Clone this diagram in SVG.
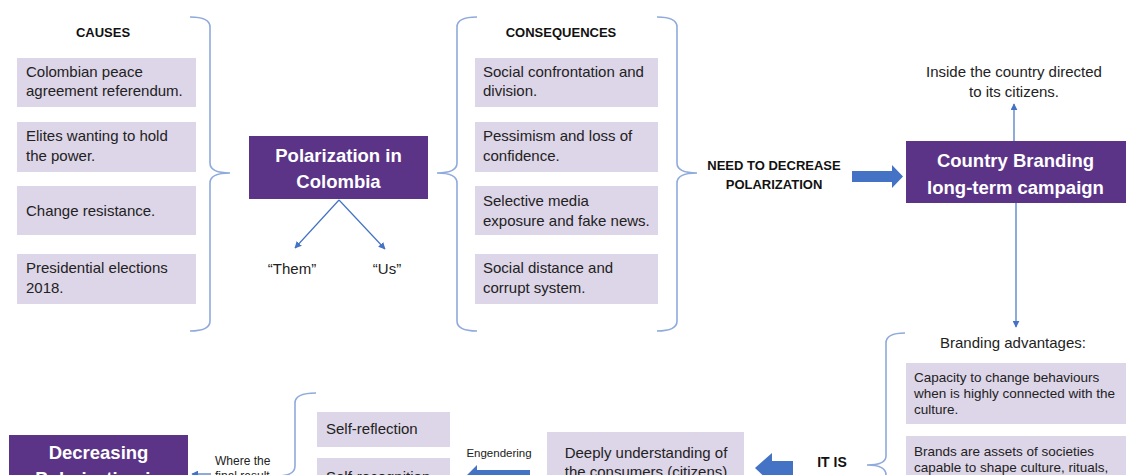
<svg xmlns="http://www.w3.org/2000/svg" width="1126" height="475" viewBox="0 0 1126 475">
<defs>
<style>
text{font-family:"Liberation Sans",Arial,sans-serif;fill:#222;}
.t{font-size:15px;}
.ts{font-size:13.5px;}
.tx{font-size:12px;}
.h{font-size:13px;font-weight:bold;fill:#111;}
.pb{fill:#5B3487;}
.pt{font-size:18.5px;font-weight:bold;fill:#fff;text-anchor:middle;}
.lb{fill:#DDD5E8;}
.br{fill:none;stroke:#8FAADC;stroke-width:1.6;}
.ln{fill:none;stroke:#4472C4;stroke-width:1.2;marker-end:url(#ah);}
.blk{fill:#4472C4;}
.c{text-anchor:middle;}
</style>
<marker id="ah" viewBox="0 0 10 10" refX="9" refY="5" markerWidth="7" markerHeight="7" orient="auto" markerUnits="userSpaceOnUse">
<path d="M0,0 L10,5 L0,10 z" fill="#4472C4"/>
</marker>
</defs>
<rect width="1126" height="475" fill="#fff"/>

<g id="causes">
<text class="h c" x="103" y="37">CAUSES</text>
<g id="cause1"><rect class="lb" x="17" y="58" width="179" height="49"/><text class="t" x="26" y="77">Colombian peace</text><text class="t" x="26" y="96">agreement referendum.</text></g>
<g id="cause2"><rect class="lb" x="17" y="122" width="179" height="50"/><text class="t" x="26" y="141">Elites wanting to hold</text><text class="t" x="26" y="161">the power.</text></g>
<g id="cause3"><rect class="lb" x="17" y="186" width="179" height="49"/><text class="t" x="26" y="216">Change resistance.</text></g>
<g id="cause4"><rect class="lb" x="17" y="254" width="179" height="50"/><text class="t" x="26" y="273">Presidential elections</text><text class="t" x="26" y="293">2018.</text></g>
</g>

<g id="polarization"><rect class="pb" x="249" y="136" width="179" height="63"/><text class="pt" x="338.5" y="161.5">Polarization in</text><text class="pt" x="338.5" y="187.5">Colombia</text></g>
<g id="them"><text class="t c" x="292" y="274">“Them”</text></g>
<g id="us"><text class="t c" x="387" y="274">“Us”</text></g>

<g id="consequences">
<text class="h c" x="561" y="37">CONSEQUENCES</text>
<g id="cons1"><rect class="lb" x="475" y="58" width="183" height="49"/><text class="t" x="483" y="77">Social confrontation and</text><text class="t" x="483" y="96">division.</text></g>
<g id="cons2"><rect class="lb" x="475" y="122" width="183" height="50"/><text class="t" x="483" y="141">Pessimism and loss of</text><text class="t" x="483" y="161">confidence.</text></g>
<g id="cons3"><rect class="lb" x="475" y="186" width="183" height="49"/><text class="t" x="483" y="206">Selective media</text><text class="t" x="483" y="226">exposure and fake news.</text></g>
<g id="cons4"><rect class="lb" x="475" y="254" width="183" height="50"/><text class="t" x="483" y="273">Social distance and</text><text class="t" x="483" y="293">corrupt system.</text></g>
</g>

<g id="need"><text class="h c" x="774" y="170">NEED TO DECREASE</text><text class="h c" x="774" y="189">POLARIZATION</text></g>

<g id="branding"><rect class="pb" x="906" y="141" width="220" height="62"/><text class="pt" x="1015.5" y="166.5">Country Branding</text><text class="pt" x="1015.5" y="193.5">long-term campaign</text></g>

<g id="inside"><text class="t c" x="1014" y="77">Inside the country directed</text><text class="t c" x="1014" y="97">to its citizens.</text></g>

<g id="advantages">
<text class="t c" x="1013" y="348">Branding advantages:</text>
<g id="adv1"><rect class="lb" x="906" y="363" width="220" height="61"/><text class="ts" x="914" y="382">Capacity to change behaviours</text><text class="ts" x="914" y="398">when is highly connected with the</text><text class="ts" x="914" y="414">culture.</text></g>
<g id="adv2"><rect class="lb" x="906" y="436" width="220" height="70"/><text class="ts" x="914" y="456">Brands are assets of societies</text><text class="ts" x="914" y="472">capable to shape culture, rituals,</text></g>
</g>

<g id="itis"><text class="c" x="832" y="467" style="font-size:14px;font-weight:bold;fill:#111">IT IS</text></g>

<g id="deeply"><rect class="lb" x="547" y="432" width="197" height="70"/><text class="t c" x="646" y="458">Deeply understanding of</text><text class="t c" x="646" y="477">the consumers (citizens)</text></g>

<g id="selfreflection"><rect class="lb" x="317" y="412" width="133" height="35"/><text class="t" x="326" y="434">Self-reflection</text></g>
<g id="selfrecognition"><rect class="lb" x="317" y="458" width="133" height="40"/><text class="t" x="326" y="482">Self-recognition</text></g>

<g id="engendering"><text class="c" x="499" y="457" style="font-size:11.5px">Engendering</text></g>
<g id="wherethe"><text class="tx" x="215" y="465">Where the</text><text class="tx" x="215" y="480">final result</text></g>

<g id="decreasing"><rect class="pb" x="9" y="435" width="179" height="70"/><text class="pt" x="98.5" y="458.5">Decreasing</text><text class="pt" x="98.5" y="485">Polarization in</text></g>

<g id="braces">
<path class="br" d="M190,17 Q210,17 210,27 L210,163 Q210,173 230,173 Q210,173 210,183 L210,321 Q210,331 190,331"/>
<path class="br" d="M477,17 Q457,17 457,27 L457,163 Q457,173 437,173 Q457,173 457,183 L457,321 Q457,331 477,331"/>
<path class="br" d="M657,17 Q677,17 677,27 L677,163 Q677,173 697,173 Q677,173 677,183 L677,321 Q677,331 657,331"/>
<path class="br" d="M905,333 Q886,333 886,343 L886,456 Q886,465 867,465 Q886,465 886,475 L886,600"/>
<path class="br" d="M316,393 Q295,393 295,403 L295,466 Q295,476 277,476 Q295,476 295,486 L295,600"/>
</g>

<g id="connectors">
<line class="ln" x1="339" y1="200" x2="295" y2="248"/>
<line class="ln" x1="339" y1="200" x2="385" y2="249"/>
<line class="ln" x1="1014" y1="141" x2="1014" y2="104"/>
<line class="ln" x1="1016" y1="203" x2="1016" y2="327"/>
<line class="ln" x1="211" y1="474" x2="192" y2="474"/>
<polygon class="blk" points="852,171 892,171 892,165 903,176.5 892,188 892,182 852,182"/>
<polygon class="blk" points="755,468 772,453 772,461 793,461 793,476 772,476 772,484"/>
<polygon class="blk" points="460,482 477,465 477,470 530,470 530,494 477,494 477,499"/>
</g>
</svg>
